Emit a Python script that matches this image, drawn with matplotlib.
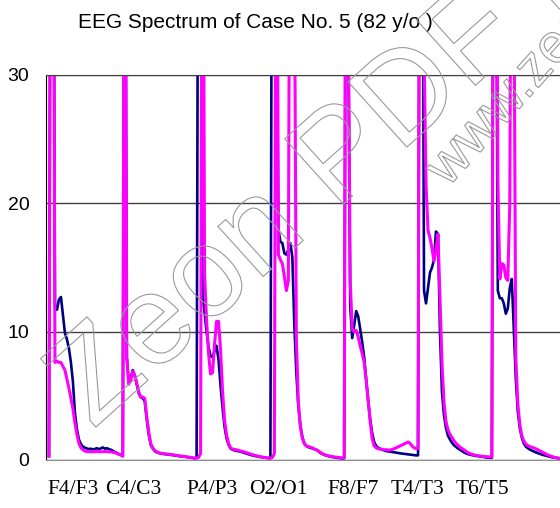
import numpy as np
import matplotlib
matplotlib.use('Agg')
import matplotlib.pyplot as plt
import matplotlib.patheffects as pe

# spectrum per montage pair, 37 bins each (first bin joins the previous pair)
# dark blue trace
navy_f4f3 = [0.3, 60, 60, 12.0, 11.7, 12.5, 12.7, 11.3, 9.9, 9.4, 8.7, 7.6, 6.1, 3.7, 2.4, 1.6, 1.25, 1.05,
             0.95, 0.9, 0.85, 0.88, 0.82, 0.86, 0.92, 0.85, 0.9, 0.98, 0.88, 0.92, 0.85, 0.8, 0.72, 0.62,
             0.55, 0.46, 0.4]
navy_c4c3 = [0.3, 60, 8.0, 6.0, 6.4, 7.0, 6.6, 5.9, 5.2, 4.9, 4.8, 4.6, 3.2, 2.0, 1.2, 0.9, 0.7, 0.6,
             0.55, 0.5, 0.48, 0.46, 0.44, 0.42, 0.4, 0.38, 0.36, 0.34, 0.31, 0.29, 0.27, 0.25, 0.23,
             0.21, 0.19, 0.16, 0.14]
navy_p4p3 = [0.15, 60, 60, 13.0, 11.5, 10.0, 8.8, 8.1, 8.0, 8.5, 8.9, 7.8, 5.8, 4.1, 2.6, 1.7, 1.2, 0.9,
             0.8, 0.75, 0.72, 0.68, 0.65, 0.6, 0.55, 0.5, 0.45, 0.4, 0.36, 0.32, 0.29, 0.26, 0.23,
             0.21, 0.19, 0.17, 0.15]
navy_o2o1 = [0.13, 60, 60, 40, 18, 17.0, 16.9, 16.1, 16.0, 16.4, 16.9, 15.8, 10.5, 6.8, 4.2, 2.7, 1.8,
             1.3, 1.1, 1.0, 0.95, 0.9, 0.85, 0.8, 0.7, 0.55, 0.47, 0.4, 0.35, 0.3, 0.27, 0.23, 0.2,
             0.18, 0.16, 0.14, 0.13]
navy_f8f7 = [0.13, 60, 35, 12, 9.5, 10.5, 11.6, 11.2, 10.2, 9.2, 8.0, 6.3, 4.6, 3.2, 2.1, 1.4, 1.1,
             0.95, 0.88, 0.8, 0.75, 0.7, 0.67, 0.65, 0.62, 0.6, 0.57, 0.55, 0.52, 0.5, 0.48, 0.46,
             0.44, 0.42, 0.4, 0.38, 0.36]
navy_t4t3 = [0.36, 60, 60, 13.2, 12.2, 13.4, 14.6, 15.0, 15.6, 17.8, 17.6, 10.0, 5.3, 3.5, 2.5, 1.9,
             1.6, 1.35, 1.15, 1.02, 0.9, 0.8, 0.7, 0.6, 0.52, 0.46, 0.42, 0.38, 0.35, 0.32, 0.3,
             0.28, 0.26, 0.23, 0.2, 0.18, 0.17]
navy_t6t5 = [0.17, 60, 45, 13.2, 12.6, 12.6, 12.2, 11.4, 11.8, 13.4, 14.1, 10.2, 6.4, 3.8, 2.5, 1.75,
             1.3, 1.05, 0.92, 0.82, 0.74, 0.67, 0.6, 0.54, 0.48, 0.43, 0.38, 0.34, 0.3, 0.26, 0.22,
             0.19, 0.17, 0.15, 0.13, 0.12, 0.11]

# magenta trace
pink_f4f3 = [0.3, 60, 60, 7.6, 7.7, 7.6, 7.6, 7.3, 7.0, 6.3, 5.6, 4.8, 4.0, 2.9, 2.0, 1.3, 0.95, 0.8,
             0.7, 0.65, 0.65, 0.65, 0.64, 0.65, 0.66, 0.65, 0.64, 0.65, 0.66, 0.65, 0.64, 0.63, 0.6,
             0.57, 0.52, 0.45, 0.38]
pink_c4c3 = [0.3, 60, 8.0, 5.9, 6.2, 6.9, 6.6, 6.0, 5.3, 4.9, 4.9, 4.8, 3.4, 2.2, 1.3, 0.95, 0.75, 0.65,
             0.57, 0.53, 0.5, 0.48, 0.47, 0.45, 0.43, 0.41, 0.38, 0.36, 0.33, 0.31, 0.29, 0.27, 0.25,
             0.22, 0.2, 0.17, 0.15]
pink_p4p3 = [0.15, 0.2, 0.5, 60, 14.5, 10.9, 8.3, 6.7, 6.8, 9.0, 10.8, 10.8, 8.6, 5.4, 3.1, 2.0, 1.3,
             0.95, 0.85, 0.82, 0.8, 0.75, 0.7, 0.67, 0.62, 0.57, 0.52, 0.47, 0.42, 0.37, 0.33, 0.29,
             0.26, 0.23, 0.2, 0.18, 0.15]
pink_o2o1 = [0.15, 0.2, 0.5, 60, 16.0, 15.6, 15.3, 14.3, 13.2, 14.0, 60, 60, 40, 9.5, 4.5, 2.6, 1.7,
             1.25, 1.1, 1.05, 1.0, 0.95, 0.85, 0.8, 0.7, 0.6, 0.5, 0.42, 0.37, 0.33, 0.3, 0.27, 0.24,
             0.22, 0.2, 0.18, 0.15]
pink_f8f7 = [0.2, 60, 35, 14, 10.2, 10.0, 10.1, 9.6, 8.9, 8.3, 7.6, 6.2, 4.7, 3.0, 1.7, 1.1, 0.95, 0.88,
             0.85, 0.83, 0.8, 0.8, 0.78, 0.78, 0.82, 0.88, 0.95, 1.02, 1.1, 1.17, 1.25, 1.32, 1.4,
             1.3, 1.1, 0.95, 0.9]
pink_t4t3 = [0.9, 60, 60, 32, 21.5, 17.9, 17.3, 16.5, 15.5, 16.3, 17.6, 12.5, 7.6, 4.5, 3.0, 2.35, 2.0,
             1.75, 1.5, 1.3, 1.15, 1.0, 0.9, 0.8, 0.68, 0.58, 0.5, 0.45, 0.4, 0.37, 0.34, 0.31, 0.29,
             0.27, 0.26, 0.25, 0.24]
pink_t6t5 = [0.24, 60, 60, 22, 14.1, 15.3, 15.2, 14.2, 14.0, 20, 60, 40, 8.0, 4.4, 2.8, 1.9, 1.5, 1.25,
             1.12, 1.05, 1.0, 0.95, 0.88, 0.8, 0.72, 0.64, 0.56, 0.48, 0.4, 0.34, 0.28, 0.23, 0.18,
             0.14, 0.12, 0.1, 0.1]

pairs = ['F4/F3', 'C4/C3', 'P4/P3', 'O2/O1', 'F8/F7', 'T4/T3', 'T6/T5']
label_pos = [12.3, 42.3, 81.7, 114.8, 152.4, 184.5, 217.5]

navy = np.concatenate([navy_f4f3, navy_c4c3, navy_p4p3, navy_o2o1, navy_f8f7, navy_t4t3, navy_t6t5])
pink = np.concatenate([pink_f4f3, pink_c4c3, pink_p4p3, pink_o2o1, pink_f8f7, pink_t4t3, pink_t6t5])
x = np.arange(len(navy))

fig = plt.figure(figsize=(5.6, 5.08), dpi=100)
ax = fig.add_axes([0.0821, 0.0945, 0.928, 0.758])

ax.plot(x, navy, color='#000080', lw=1.9, solid_joinstyle='round')
ax.plot(x, pink, color='#FF00FF', lw=2.2, solid_joinstyle='round')

ax.set_xlim(-1.5, 259)
ax.set_ylim(0, 30)
ax.set_yticks([0, 10, 20, 30])
ax.yaxis.grid(True, color='#404040', lw=1)
ax.set_axisbelow(True)
ax.tick_params(axis='y', length=0, pad=12, labelsize=14)
for t in ax.get_yticklabels():
    t.set_family('Liberation Sans')
ax.set_xticks(label_pos)
ax.set_xticklabels(pairs, family='Liberation Serif', fontsize=15.5)
ax.tick_params(axis='x', length=0, pad=14.5)
ax.spines['left'].set_color('black')
ax.spines['top'].set_color('#404040')
ax.spines['bottom'].set_color('#909090')
ax.spines['right'].set_visible(False)

fig.text(0.456, 0.955, 'EEG Spectrum of Case No. 5 (82 y/o )', ha='center', va='center',
         family='Liberation Sans', fontsize=15)

# trial watermark of the pdf converter
wm = [pe.Stroke(linewidth=0.8, foreground='#999999')]
fig.text(0.166, 0.154, 'Zeon PDF Driver Trial', color='none', family='Liberation Sans',
         fontsize=92, rotation=42, rotation_mode='anchor', ha='left', va='baseline',
         path_effects=wm, zorder=10)
fig.text(0.80, 0.63, 'www.zeon.com.tw', color='none', family='Liberation Sans',
         fontsize=40, rotation=48, rotation_mode='anchor', ha='left', va='baseline',
         path_effects=wm, zorder=10)

plt.savefig('out.png', dpi=100)
plt.close()
